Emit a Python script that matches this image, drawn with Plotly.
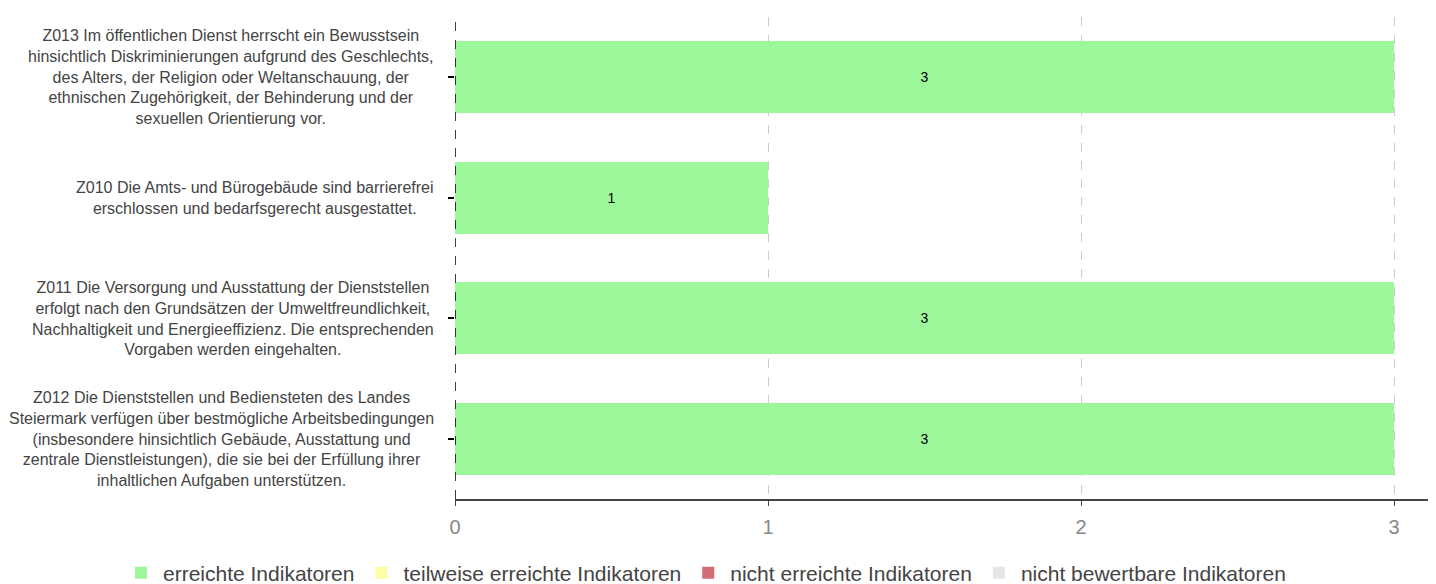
import plotly.graph_objects as go

categories = [
    "Z013 Im öffentlichen Dienst herrscht ein Bewusstsein<br>hinsichtlich Diskriminierungen aufgrund des Geschlechts,<br>des Alters, der Religion oder Weltanschauung, der<br>ethnischen Zugehörigkeit, der Behinderung und der<br>sexuellen Orientierung vor.",
    "Z010 Die Amts- und Bürogebäude sind barrierefrei<br>erschlossen und bedarfsgerecht ausgestattet.",
    "Z011 Die Versorgung und Ausstattung der Dienststellen<br>erfolgt nach den Grundsätzen der Umweltfreundlichkeit,<br>Nachhaltigkeit und Energieeffizienz. Die entsprechenden<br>Vorgaben werden eingehalten.",
    "Z012 Die Dienststellen und Bediensteten des Landes<br>Steiermark verfügen über bestmögliche Arbeitsbedingungen<br>(insbesondere hinsichtlich Gebäude, Ausstattung und<br>zentrale Dienstleistungen), die sie bei der Erfüllung ihrer<br>inhaltlichen Aufgaben unterstützen.",
]
keys = ["Z013", "Z010", "Z011", "Z012"]
erreicht = [3, 1, 3, 3]
teilweise = [0, 0, 0, 0]
nicht_erreicht = [0, 0, 0, 0]
nicht_bewertbar = [0, 0, 0, 0]
x_ticks = [0, 1, 2, 3]

series = [
    ("erreichte Indikatoren", erreicht, "#9df79b"),
    ("teilweise erreichte Indikatoren", teilweise, "#fdfda6"),
    ("nicht erreichte Indikatoren", nicht_erreicht, "#d46c75"),
    ("nicht bewertbare Indikatoren", nicht_bewertbar, "#e5e5e5"),
]

FONT = "Liberation Sans, Arial, Helvetica, sans-serif"

fig = go.Figure()
for name, vals, color in series:
    fig.add_trace(go.Bar(
        y=keys, x=vals, name=name, orientation="h",
        marker=dict(color=color, line=dict(width=0)),
        width=0.6,
        text=[str(v) if v > 0 else "" for v in vals],
        textposition="inside", insidetextanchor="middle",
        textfont=dict(size=14, color="#000000", family=FONT),
        hoverinfo="x+name",
    ))

PLOT_W = 1444 - 447
for k, lab in zip(keys, categories):
    fig.add_annotation(
        x=-19 / PLOT_W, xref="paper", y=k, yref="y", text=lab, showarrow=False,
        xanchor="right", yanchor="middle", align="center",
        font=dict(size=16, color="#444444", family=FONT),
    )

fig.add_shape(type="line", xref="x", yref="paper", x0=0, x1=0, y0=0, y1=1,
              line=dict(color="#000000", width=1.5, dash="dash"), layer="above")

fig.update_layout(
    barmode="stack",
    width=1444, height=584,
    margin=dict(l=447, r=0, t=9, b=93, autoexpand=False),
    plot_bgcolor="white", paper_bgcolor="white",
    font=dict(family=FONT, color="#444444"),
    showlegend=True,
    legend=dict(orientation="h", x=-336 / PLOT_W, xanchor="left",
                y=-0.111, yanchor="top",
                font=dict(size=21, color="#444444", family=FONT),
                traceorder="normal", itemwidth=34),
    xaxis=dict(range=[0, 3.185], tickvals=x_ticks, showgrid=True, gridcolor="#cccccc",
               griddash="dash", gridwidth=1, zeroline=False,
               showline=True, linecolor="#444444", linewidth=2,
               ticks="outside", ticklen=5, tickcolor="#444444",
               ticklabelstandoff=4,
               tickfont=dict(size=20, color="#888888")),
    yaxis=dict(categoryorder="array", categoryarray=keys, autorange="reversed",
               showticklabels=False, ticks="outside", ticklen=6, tickcolor="#000000",
               tickwidth=2, showgrid=False, zeroline=False, showline=False),
)

fig.write_html("out.html")
